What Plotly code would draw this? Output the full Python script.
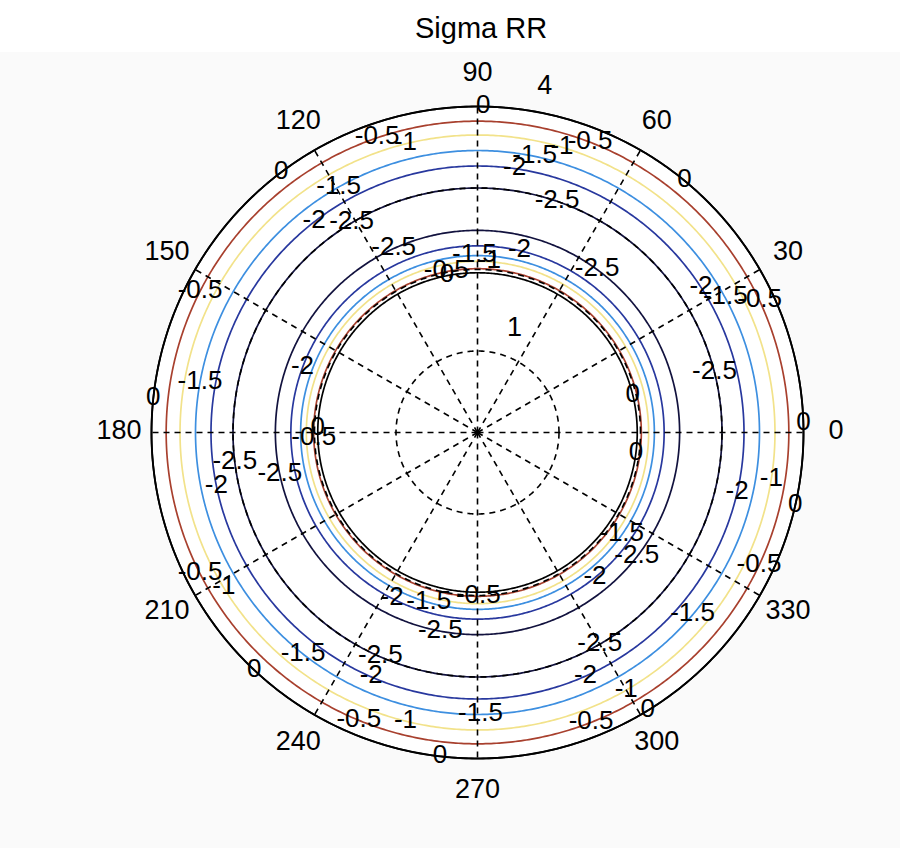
import numpy as np
import plotly.graph_objects as go

# Contour levels of sigma_rr and the radius of each level on both branches
levels = [0, -0.5, -1, -1.5, -2, -2.5]
outer_radii = [4.0, 3.82, 3.65, 3.46, 3.27, 3.0]
inner_radii = [1.96, 2.01, 2.10, 2.17, 2.29, 2.48]
level_colors = ["#000000", "#a8402e", "#f2e28a", "#3d8fe0", "#28389e", "#12123e"]

# Inline contour labels: level, branch, angle (deg)
label_levels = [
    0, 0, 0, 0, 0, 0, 0, 0, 0,
    -0.5, -0.5, -0.5, -0.5, -0.5, -0.5, -0.5, -0.5,
    -1, -1, -1, -1, -1, -1,
    -1.5, -1.5, -1.5, -1.5, -1.5, -1.5, -1.5,
    -2, -2, -2, -2, -2, -2, -2,
    -2.5, -2.5, -2.5, -2.5, -2.5, -2.5,
    -2.5, -2.5, -2.5, -2.5, -2.5,
    -2, -2, -2, -2,
    -1.5, -1.5, -1.5,
    -1, -0.5, -0.5, -0.5,
    0, 0, 0, 0,
]
label_branch = ["outer"] * 43 + ["inner"] * 20
label_theta = [
    89, 127, 50.6, 1.6, 347, 174, 226.8, 263.4, 301.5,
    108.8, 68.8, 25, 207, 334.7, 247.6, 291.4, 153,
    256, 300, 351, 211.5, 73.5, 104,
    119.5, 78.3, 169.8, 231.8, 270.6, 319.7, 28.5,
    127.8, 82, 33, 346.9, 191.6, 246.5, 293.9,
    121, 71, 14.2, 187, 246.6, 300,
    114.5, 53.7, 192, 259.4, 322,
    77, 242.8, 309, 159.7,
    254, 324.6, 91,
    86, 270.3, 101, 182,
    101, 352.6, 178.6, 13.5,
]

# Polar grid
ring_radii = [1, 2, 3]
r_max = 4
r_view = 4.6
spoke_angles = list(range(0, 360, 30))
angle_labels = [str(a) for a in spoke_angles]
angle_label_r = 4.4
radial_tick_text = ["1", "4"]
radial_tick_r = [1.35, 4.32]
radial_tick_theta = [70.4, 79]

FONT = "Liberation Sans, Arial, sans-serif"
circle_theta = np.linspace(0, 360, 721)

fig = go.Figure()

# white disc inside the outer boundary
fig.add_trace(go.Scatterpolar(
    r=np.full_like(circle_theta, r_max), theta=circle_theta, mode="none",
    fill="toself", fillcolor="white", hoverinfo="skip", showlegend=False))

# contour circles
for lev, ro, ri, col in zip(levels, outer_radii, inner_radii, level_colors):
    for rad in (ro, ri):
        fig.add_trace(go.Scatterpolar(
            r=np.full_like(circle_theta, rad), theta=circle_theta,
            mode="lines", line=dict(color=col, width=1.7),
            hoverinfo="skip", showlegend=False))

# dashed grid rings and spokes
for rr in ring_radii:
    fig.add_trace(go.Scatterpolar(
        r=np.full_like(circle_theta, rr), theta=circle_theta, mode="lines",
        line=dict(color="black", width=1.6, dash="6px,5px"),
        hoverinfo="skip", showlegend=False))
for a in spoke_angles:
    fig.add_trace(go.Scatterpolar(
        r=[0, r_max], theta=[a, a], mode="lines",
        line=dict(color="black", width=1.6, dash="6px,5px"),
        hoverinfo="skip", showlegend=False))
# solid outer boundary
fig.add_trace(go.Scatterpolar(
    r=np.full_like(circle_theta, r_max), theta=circle_theta, mode="lines",
    line=dict(color="black", width=1.9), hoverinfo="skip", showlegend=False))

# contour labels
lab_r = []
lab_text = []
for lev, br in zip(label_levels, label_branch):
    idx = levels.index(lev)
    lab_r.append(outer_radii[idx] if br == "outer" else inner_radii[idx])
    lab_text.append("0" if lev == 0 else f"{lev:g}")
fig.add_trace(go.Scatterpolar(
    r=lab_r, theta=label_theta, mode="text", text=lab_text,
    textfont=dict(family=FONT, size=26, color="black"),
    cliponaxis=False, hoverinfo="skip", showlegend=False))

# angle labels
fig.add_trace(go.Scatterpolar(
    r=[angle_label_r] * len(spoke_angles), theta=spoke_angles, mode="text",
    text=angle_labels, textfont=dict(family=FONT, size=27, color="black"),
    cliponaxis=False, hoverinfo="skip", showlegend=False))

# radial tick labels
fig.add_trace(go.Scatterpolar(
    r=radial_tick_r, theta=radial_tick_theta, mode="text",
    text=radial_tick_text, textfont=dict(family=FONT, size=27, color="black"),
    cliponaxis=False, hoverinfo="skip", showlegend=False))

W, H = 900, 848
cx, cy = 477.5, 432.5
rpx = 326 * r_view / r_max

fig.update_layout(
    width=W, height=H,
    margin=dict(l=0, r=0, t=0, b=0),
    paper_bgcolor="white",
    plot_bgcolor="white",
    polar=dict(
        domain=dict(x=[(cx - rpx) / W, (cx + rpx) / W],
                    y=[(H - cy - rpx) / H, (H - cy + rpx) / H]),
        bgcolor="rgba(0,0,0,0)",
        radialaxis=dict(range=[0, r_view], visible=False),
        angularaxis=dict(rotation=0, direction="counterclockwise",
                         showgrid=False, showline=False, showticklabels=False,
                         ticks=""),
    ),
    shapes=[dict(type="rect", xref="paper", yref="paper", x0=0, x1=1,
                 y0=0, y1=(H - 52) / H, fillcolor="#fafafa",
                 line=dict(width=0), layer="below")],
    annotations=[dict(text="Sigma RR", xref="paper", yref="paper",
                      x=481 / W, y=1 - 28 / H, xanchor="center", yanchor="middle",
                      showarrow=False,
                      font=dict(family=FONT, size=29, color="black"))],
)

fig.write_html("out.html")
